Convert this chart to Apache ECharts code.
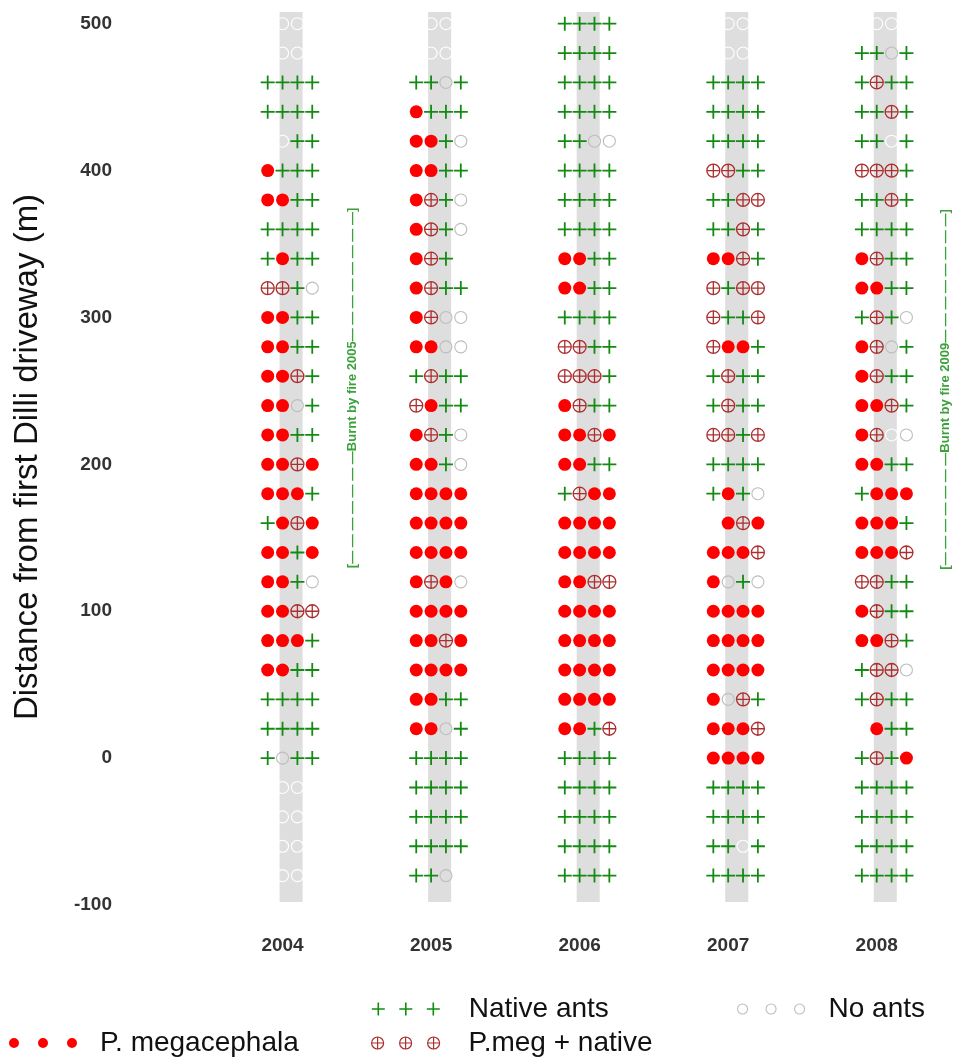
<!DOCTYPE html>
<html>
<head>
<meta charset="utf-8">
<script src="https://cdn.jsdelivr.net/npm/echarts@6/dist/echarts.min.js"></script>
<style>
  html, body { margin: 0; padding: 0; background: #fff; }
  #chart { width: 957px; height: 1064px; }
</style>
</head>
<body>
<div id="chart"></div>
<script>
const years = [2004, 2005, 2006, 2007, 2008]
const distances = [500, 480, 460, 440, 420, 400, 380, 360, 340, 320, 300, 280, 260, 240, 220,
  200, 180, 160, 140, 120, 100, 80, 60, 40, 20, 0, -20, -40, -60, -80]

// one string per distance, one letter per sample point (4 per row)
// P = P. megacephala, B = P.meg + native, N = native ants, O = no ants, W = not sampled
const obs2004 = ['WWWW', 'WWWW', 'NNNN', 'NNNN', 'WWNN', 'PNNN', 'PPNN', 'NNNN', 'NPNN', 'BBNO',
  'PPNN', 'PPNN', 'PPBN', 'PPON', 'PPNN', 'PPBP', 'PPPN', 'NPBP', 'PPNP', 'PPNO',
  'PPBB', 'PPPN', 'PPNN', 'NNNN', 'NNNN', 'NONN', 'WWWW', 'WWWW', 'WWWW', 'WWWW']
const obs2005 = ['WWWW', 'WWWW', 'NNON', 'PNNN', 'PPNO', 'PPNN', 'PBNO', 'PBNO', 'PBNW', 'PBNN',
  'PBOO', 'PPOO', 'NBNN', 'BPNN', 'PBNO', 'PPNO', 'PPPP', 'PPPP', 'PPPP', 'PBPO',
  'PPPP', 'PPBP', 'PPPP', 'PPNN', 'PPON', 'NNNN', 'NNNN', 'NNNN', 'NNNN', 'NNOW']
const obs2006 = ['NNNN', 'NNNN', 'NNNN', 'NNNN', 'NNOO', 'NNNN', 'NNNN', 'NNNN', 'PPNN', 'PPNN',
  'NNNN', 'BBNN', 'BBBN', 'PBNN', 'PPBP', 'PPNN', 'NBPP', 'PPPP', 'PPPP', 'PPBB',
  'PPPP', 'PPPP', 'PPPP', 'PPPP', 'PPNB', 'NNNN', 'NNNN', 'NNNN', 'NNNN', 'NNNN']
const obs2007 = ['WWWW', 'WWWW', 'NNNN', 'NNNN', 'NNNN', 'BBNN', 'NNBB', 'NNBN', 'PPBN', 'BNBB',
  'BNNB', 'BPPN', 'NBNN', 'NBNN', 'BBNB', 'NNNN', 'NPNO', 'WPBP', 'PPPB', 'PONO',
  'PPPP', 'PPPP', 'PPPP', 'POBN', 'PPPB', 'PPPP', 'NNNN', 'NNNN', 'NNWN', 'NNNN']
const obs2008 = ['WWWW', 'NNON', 'NBNN', 'NNBN', 'NNWN', 'BBBN', 'NNBN', 'NNNN', 'PBNN', 'PPNN',
  'NBNO', 'PBON', 'PBNN', 'PPBN', 'PBWO', 'PPNN', 'NPPP', 'PPPN', 'PPPB', 'BBNN',
  'PBNN', 'PPBN', 'NBBO', 'NBNN', 'WPNN', 'NBNP', 'NNNN', 'NNNN', 'NNNN', 'NNNN']

const colOffsets = [-0.1, 0, 0.1, 0.2]

// fire annotations
const fireX = [2004.47, 2008.46]
const fireY = [252, 251]
const fireLabels = ['Burnt by fire 2005', 'Burnt by fire 2009']

const obsByYear = [obs2004, obs2005, obs2006, obs2007, obs2008]

const pointsFor = code => {
  const pts = []
  years.forEach((yr, i) => {
    obsByYear[i].forEach((row, r) => {
      for (let c = 0; c < 4; c++) {
        if (row[c] === code) pts.push([yr + colOffsets[c], distances[r]])
      }
    })
  })
  return pts
}

const GREEN = '#138a13'
const BROWN = '#ad2e2e'
const RED = '#ff0000'
const GREY = '#bdbdbd'

const plusPath = 'path://M0,7L14,7M7,0L7,14'
const circlePlusPath = 'path://M13,6.5A6.5,6.5,0,1,1,0,6.5A6.5,6.5,0,1,1,13,6.5ZM0,6.5L13,6.5M6.5,0L6.5,13'

// legend icons: three symbols in a row
const tripleIcon = (one, step) => 'path://' + [0, 1, 2].map(i => one(i * step)).join('')
const dotIcon = tripleIcon(x => `M${x},5A5,5,0,1,1,${x + 10},5A5,5,0,1,1,${x},5Z`, 29)
const plusIcon = tripleIcon(x => `M${x},6.5L${x + 13},6.5M${x + 6.5},0L${x + 6.5},13`, 27.5)
const circlePlusIcon = tripleIcon(x => `M${x + 12},6A6,6,0,1,1,${x},6A6,6,0,1,1,${x + 12},6ZM${x},6L${x + 12},6M${x + 6},0L${x + 6},12`, 28)
const ringIcon = tripleIcon(x => `M${x},5A5,5,0,1,1,${x + 10},5A5,5,0,1,1,${x},5Z`, 28.5)

const chart = echarts.init(document.getElementById('chart'))

const legendText = pad => ({
  fontSize: 28,
  fontFamily: 'Liberation Sans',
  color: '#111',
  padding: [0, 0, 0, pad]
})

const transparent = 'rgba(0,0,0,0)'

const option = {
  animation: false,
  backgroundColor: '#fff',
  grid: { left: 134, right: 6, top: 9, bottom: 159 },
  xAxis: {
    type: 'value',
    min: 2003,
    max: 2008.5,
    interval: 1,
    axisLine: { show: false },
    axisTick: { show: false },
    splitLine: { show: false },
    axisLabel: {
      margin: 31,
      fontSize: 19,
      fontWeight: 'bold',
      fontFamily: 'Liberation Sans',
      color: '#333',
      formatter: v => (years.includes(v) ? String(v) : '')
    }
  },
  yAxis: {
    type: 'value',
    min: -100,
    max: 510,
    interval: 100,
    name: 'Distance from first Dilli driveway (m)',
    nameLocation: 'middle',
    nameGap: 90,
    nameTextStyle: { fontSize: 33, fontFamily: 'Liberation Sans', color: '#111' },
    axisLine: { show: false },
    axisTick: { show: false },
    splitLine: { show: false },
    axisLabel: {
      margin: 22,
      fontSize: 19,
      fontWeight: 'bold',
      fontFamily: 'Liberation Sans',
      color: '#333',
      formatter: v => (v % 100 === 0 ? String(v) : '')
    }
  },
  legend: [
    {
      data: [{ name: 'Native ants', icon: plusIcon }],
      left: 371, top: 995, padding: 0, itemWidth: 68, itemHeight: 13, selectedMode: false,
      itemStyle: { color: transparent, borderColor: GREEN, borderWidth: 1.6, opacity: 1 },
      textStyle: legendText(24)
    },
    {
      data: [{ name: 'No ants', icon: ringIcon }],
      left: 737, top: 995, padding: 0, itemWidth: 67, itemHeight: 10, selectedMode: false,
      itemStyle: { color: transparent, borderColor: GREY, borderWidth: 1.1, opacity: 1 },
      textStyle: legendText(19)
    },
    {
      data: [{ name: 'P. megacephala', icon: dotIcon }],
      left: 9, top: 1029, padding: 0, itemWidth: 68, itemHeight: 10, selectedMode: false,
      itemStyle: { color: RED, borderWidth: 0, opacity: 1 },
      textStyle: legendText(18)
    },
    {
      data: [{ name: 'P.meg + native', icon: circlePlusIcon }],
      left: 371, top: 1029, padding: 0, itemWidth: 68, itemHeight: 12, selectedMode: false,
      itemStyle: { color: transparent, borderColor: BROWN, borderWidth: 1.2, opacity: 1 },
      textStyle: legendText(24)
    }
  ],
  series: [
    {
      // grey sampling strip behind each year
      type: 'custom',
      z: 1,
      silent: true,
      data: years.map(y => [y, 0]),
      encode: { x: 0, y: 1 },
      renderItem: (params, api) => {
        const yr = api.value(0)
        const p0 = api.coord([yr - 0.02, 508])
        const p1 = api.coord([yr + 0.135, -98])
        return {
          type: 'rect',
          shape: { x: p0[0], y: p0[1], width: p1[0] - p0[0], height: p1[1] - p0[1] },
          style: { fill: '#dedede' }
        }
      }
    },
    {
      name: 'Not sampled', type: 'scatter', z: 2, silent: true,
      symbol: 'circle', symbolSize: 12,
      itemStyle: { color: transparent, borderColor: '#ffffff', borderWidth: 1.1, opacity: 1 },
      data: pointsFor('W')
    },
    {
      name: 'No ants', type: 'scatter', z: 2, silent: true,
      symbol: 'circle', symbolSize: 12,
      itemStyle: { color: transparent, borderColor: GREY, borderWidth: 1.1, opacity: 1 },
      data: pointsFor('O')
    },
    {
      name: 'Native ants', type: 'scatter', z: 3, silent: true,
      symbol: plusPath, symbolSize: 14,
      itemStyle: { color: transparent, borderColor: GREEN, borderWidth: 1.8, opacity: 1 },
      data: pointsFor('N')
    },
    {
      name: 'P.meg + native', type: 'scatter', z: 3, silent: true,
      symbol: circlePlusPath, symbolSize: 13,
      itemStyle: { color: transparent, borderColor: BROWN, borderWidth: 1.3, opacity: 1 },
      data: pointsFor('B')
    },
    {
      name: 'P. megacephala', type: 'scatter', z: 4, silent: true,
      symbol: 'circle', symbolSize: 13,
      itemStyle: { color: RED, opacity: 1 },
      data: pointsFor('P')
    },
    {
      name: 'fire', type: 'scatter', z: 5, silent: true,
      symbol: 'circle', symbolSize: 1,
      itemStyle: { color: transparent },
      data: fireX.map((x, i) => ({ value: [x, fireY[i]], name: fireLabels[i] })),
      label: {
        show: true,
        position: 'inside',
        rotate: 90,
        fontSize: 13,
        fontWeight: 'bold',
        fontFamily: 'Liberation Sans',
        color: '#0a8a0a',
        formatter: p => {
          const dashes = n => Array(n).fill('\u2014').join(' ')
          return '[' + dashes(7) + p.name + dashes(8) + ']'
        }
      }
    }
  ]
}

chart.setOption(option)
</script>
</body>
</html>
